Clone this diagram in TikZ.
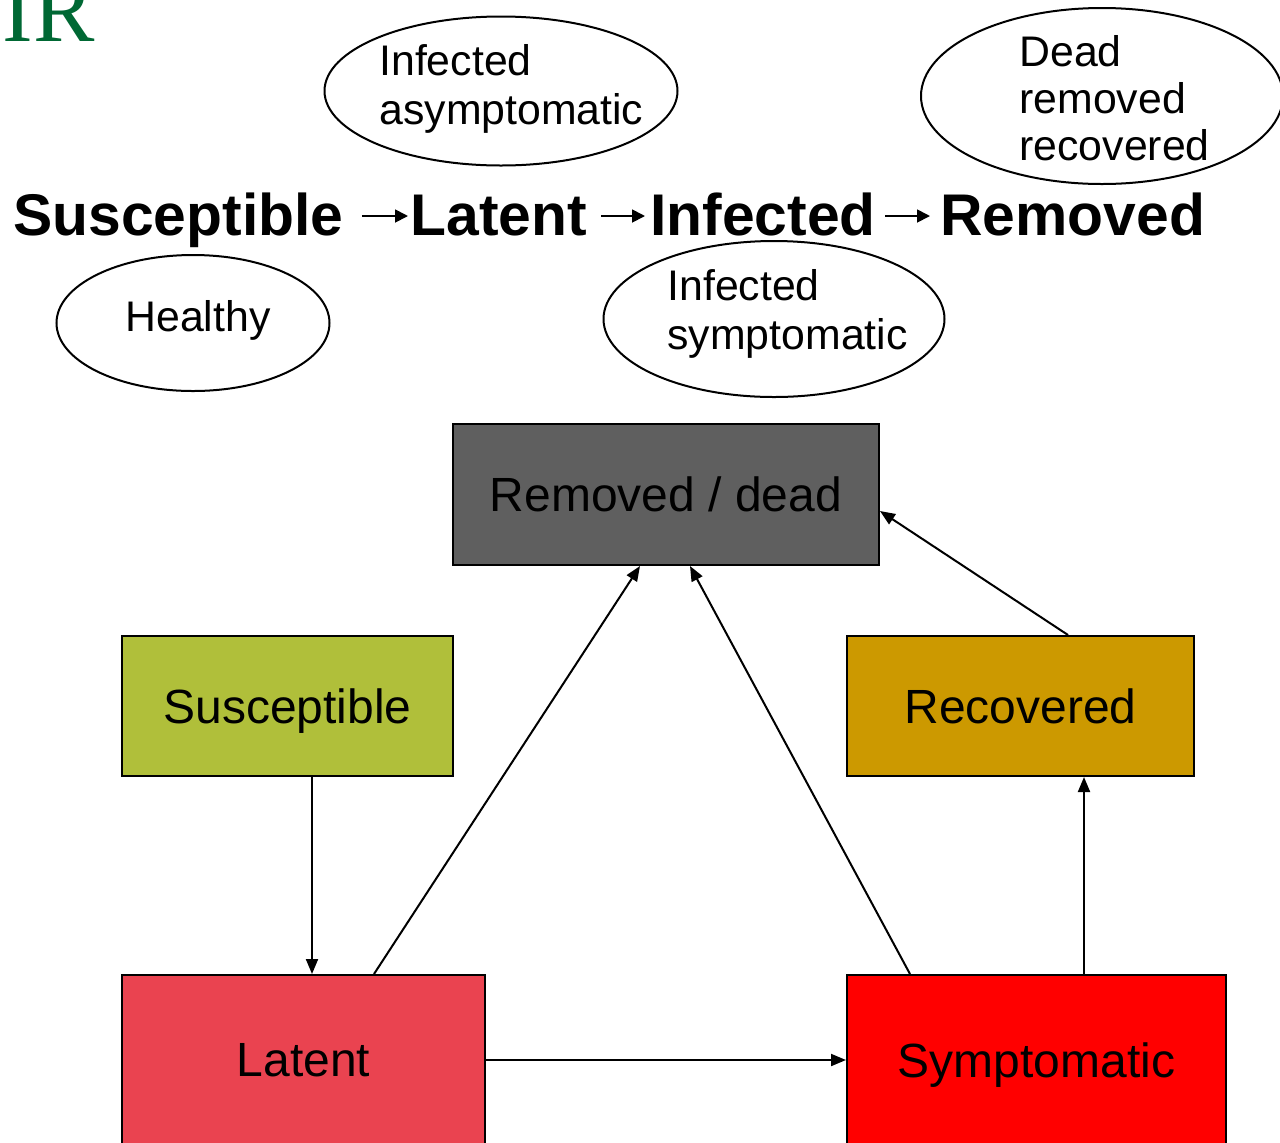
\documentclass[tikz,border=0pt]{standalone}
\usepackage{fontspec}
\setmainfont{Liberation Sans}
\newfontfamily\irserif{Liberation Serif}
\usetikzlibrary{arrows.meta,shapes.geometric,calc}
\definecolor{irgreen}{RGB}{0,104,52}
\definecolor{remgray}{RGB}{95,95,95}
\definecolor{susgreen}{RGB}{176,191,58}
\definecolor{recgold}{RGB}{204,153,0}
\definecolor{latred}{RGB}{234,67,80}
\definecolor{symred}{RGB}{255,0,0}
\begin{document}
\begin{tikzpicture}[x=0.5pt,y=-0.5pt,
  heading/.style={inner sep=0pt,font=\fontsize{29.4pt}{34pt}\selectfont\bfseries},
  harrow/.style={line width=0.9pt,-{Triangle[length=6.5pt,width=6.5pt]}},
  ell/.style={draw,line width=1pt,ellipse,inner sep=0pt},
  elltext/.style={inner sep=0pt,align=left,font=\fontsize{21.4pt}{24.5pt}\selectfont},
  statebox/.style={draw,line width=1pt,inner sep=0pt,text depth=0pt,font=\fontsize{24pt}{28pt}\selectfont},
  arr/.style={line width=1pt,-{Triangle[length=7.5pt,width=6pt]}}]
\path[use as bounding box] (0,0) rectangle (1280,1142);
\begin{scope}
\clip (0,0) rectangle (1280,1142);
% title fragment
\node[inner sep=0pt,anchor=base east,text=irgreen,font=\fontsize{46pt}{50pt}\irserif] (ir) at (95,41) {IR};
% heading
\node[heading,anchor=base west] (w1) at (13,235) {Susceptible};
\node[heading,anchor=base west] (w2) at (410,235) {Latent};
\node[heading,anchor=base west] (w3) at (650,235) {Infected};
\node[heading,anchor=base west] (w4) at (940,235) {Removed};
\draw[harrow] ([xshift=9pt,yshift=9.5pt]w1.base east) -- ([xshift=-1pt,yshift=9.5pt]w2.base west);
\draw[harrow] ([xshift=7pt,yshift=9.5pt]w2.base east) -- ([xshift=-2.5pt,yshift=9.5pt]w3.base west);
\draw[harrow] ([xshift=4.5pt,yshift=9.5pt]w3.base east) -- ([xshift=-5pt,yshift=9.5pt]w4.base west);
% ellipses
\node[ell,minimum width=176.5pt,minimum height=74.5pt] (e1) at (501,91) {};
\node[ell,minimum width=181pt,minimum height=88pt] (e2) at (1102,96) {};
\node[ell,minimum width=136.5pt,minimum height=68pt] (e3) at (193,323) {};
\node[ell,minimum width=170.5pt,minimum height=78pt] (e4) at (774,319) {};
\node[elltext,anchor=west] (t1) at (379,89) {Infected\\asymptomatic};
\node[elltext,anchor=west,font=\fontsize{21.4pt}{23.5pt}\selectfont] (t2) at (1019,98) {Dead\\removed\\recovered};
\node[elltext] (t3) at (198,320) {Healthy};
\node[elltext,anchor=west] (t4) at (667,314) {Infected\\symptomatic};
% state boxes
\node[statebox,fill=remgray,minimum width=213pt,minimum height=70.5pt] (rem) at (666,494.5) {Removed / dead};
\node[statebox,fill=susgreen,minimum width=165.5pt,minimum height=70pt] (sus) at (287.5,706) {Susceptible};
\node[statebox,fill=recgold,minimum width=173.5pt,minimum height=70pt] (rec) at (1020.5,706) {Recovered};
\node[statebox,fill=latred,minimum width=181.5pt,minimum height=85pt] (lat) at (303.5,1060) {Latent};
\node[statebox,fill=symred,minimum width=189.5pt,minimum height=85pt] (sym) at (1036.5,1060) {Symptomatic};
% connectors
\draw[arr] ([xshift=12.25pt]sus.south) -- ([xshift=4.25pt]lat.north);
\draw[arr] ([xshift=35.25pt]lat.north) -- ([xshift=-13pt]rem.south);
\draw[arr] ([xshift=-63.25pt]sym.north) -- ([xshift=12pt]rem.south);
\draw[arr] ([xshift=23.75pt]rec.north) -- ([yshift=-8.25pt]rem.east);
\draw[arr] ([xshift=23.75pt]sym.north) -- ([xshift=31.75pt]rec.south);
\draw[arr] (lat.east) -- (sym.west);
\end{scope}
\end{tikzpicture}
\end{document}
